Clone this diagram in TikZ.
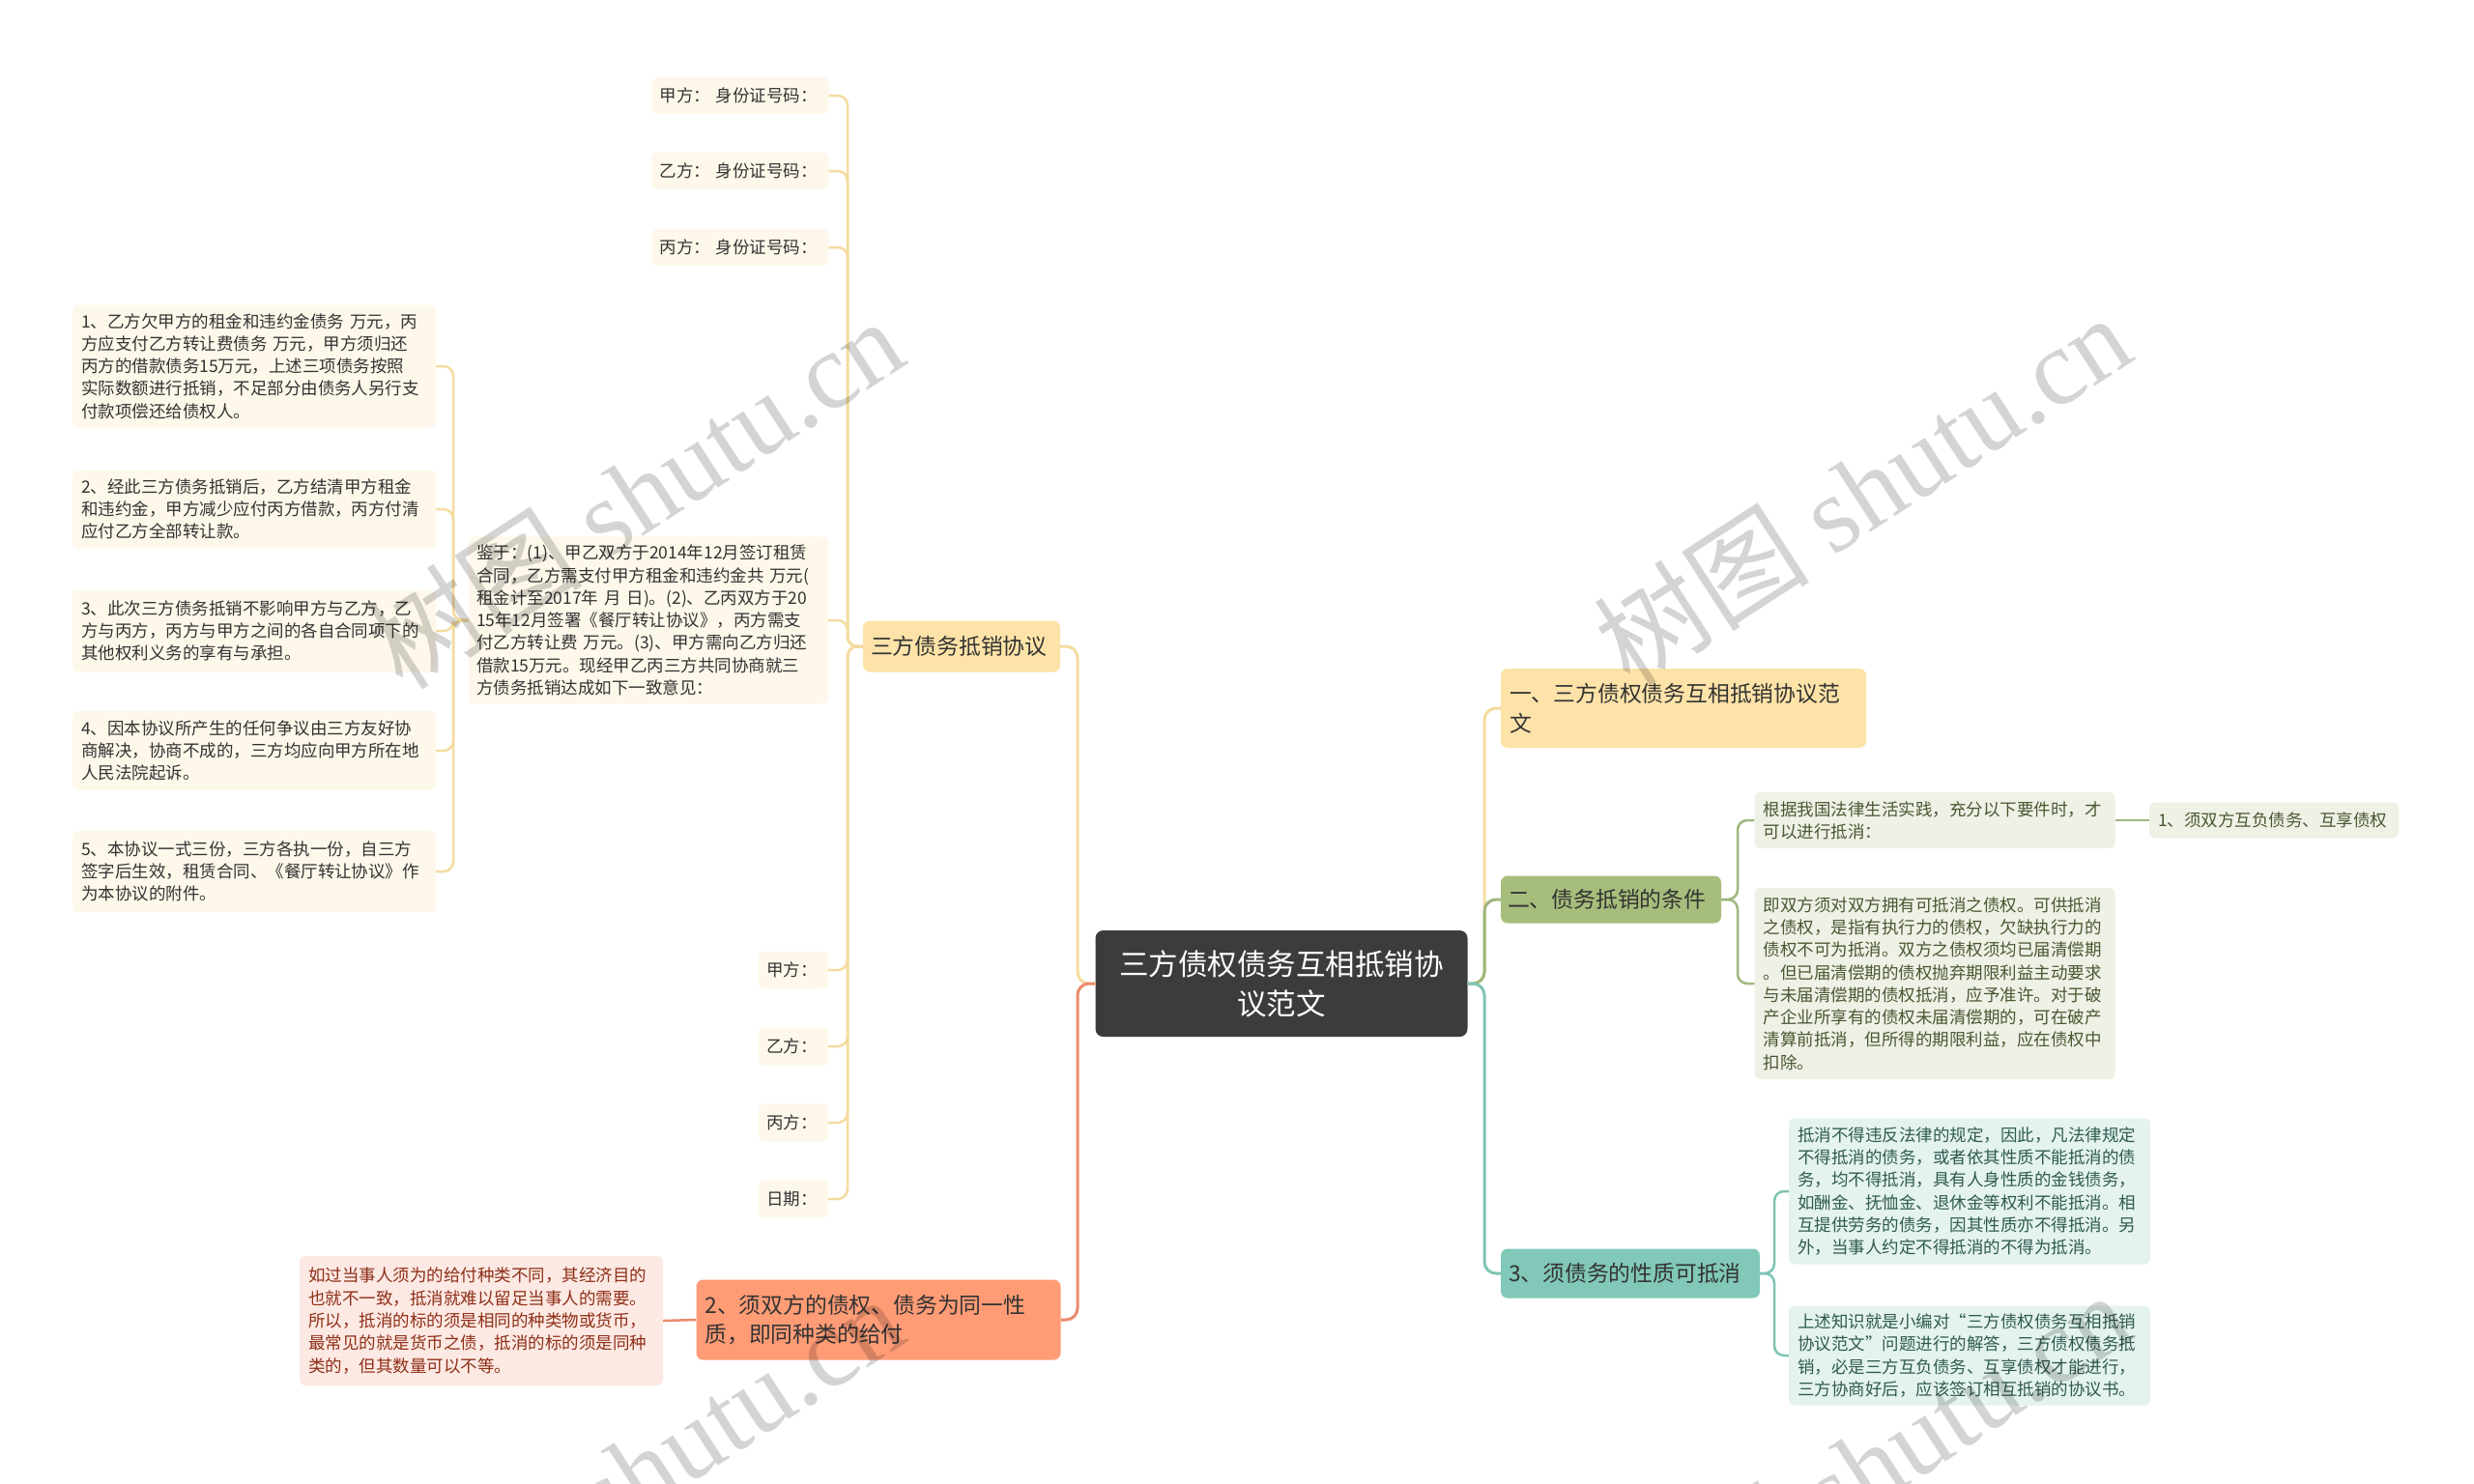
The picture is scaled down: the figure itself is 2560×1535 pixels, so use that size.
\documentclass[tikz,border=0pt]{standalone}
\usepackage{fontspec}
\setmainfont{Noto Sans CJK SC}
\newfontfamily\wmserif{Liberation Serif}
\definecolor{cdark}{HTML}{3C3C3C}
\definecolor{ymain}{HTML}{FDE3A8}
\definecolor{yleaf}{HTML}{FEF8EA}
\definecolor{yline}{HTML}{F4DC9F}
\definecolor{gmain}{HTML}{A7BD7C}
\definecolor{gleaf}{HTML}{EEF1E5}
\definecolor{gline}{HTML}{A0B67D}
\definecolor{gtext}{HTML}{4B5632}
\definecolor{tmain}{HTML}{81C8B8}
\definecolor{tleaf}{HTML}{E4F3EE}
\definecolor{tline}{HTML}{7EC4B4}
\definecolor{ttext}{HTML}{2F5A50}
\definecolor{smain}{HTML}{FF9C76}
\definecolor{sleaf}{HTML}{FDE9E3}
\definecolor{sline}{HTML}{E98B6F}
\definecolor{stext}{HTML}{8E2F18}
\definecolor{ink}{HTML}{333333}
\tikzset{
  box/.style={rounded corners=6pt, inner xsep=9pt, inner ysep=0pt, align=left, text=ink},
  leaf/.style={box, font=\fontsize{17.5}{23.3}\selectfont},
  leafY/.style={leaf, fill=yleaf},
  leafG/.style={leaf, fill=gleaf, text=gtext},
  leafT/.style={leaf, fill=tleaf, text=ttext},
  leafS/.style={leaf, fill=sleaf, text=stext},
  mainbox/.style={box, rounded corners=7pt, font=\fontsize{22.8}{30.5}\selectfont},
  rootbox/.style={box, rounded corners=8pt, fill=cdark, text=white, align=center, font=\fontsize{30.5}{41}\selectfont},
  conn/.style={line width=2.5pt, rounded corners=10pt},
  mconn/.style={line width=3pt, rounded corners=12pt},
  wm/.style={text=black, opacity=0.17, font=\fontsize{112}{112}\selectfont, inner sep=0pt}
}
\begin{document}
\begin{tikzpicture}[x=1pt,y=-1pt]
\useasboundingbox (0,0) rectangle (2560,1535);
\fill[white] (0,0) rectangle (2560,1535);

% trunk coordinates
\coordinate (tCL) at (1115,0);
\coordinate (tCR) at (1536,0);
\coordinate (tS1) at (877,0);
\coordinate (tJY) at (469,0);
\coordinate (tR2) at (1798,0);
\coordinate (tR3) at (1836,0);

% root
\node[rootbox, minimum width=385pt, minimum height=110pt, text width=367pt] (c) at (1326,1018) {三方债权债务互相抵销协\\议范文};

% right side
\node[mainbox, fill=ymain, minimum width=378pt, minimum height=82pt, text width=360pt] (r1) at (1742,733) {一、三方债权债务互相抵销协议范\\文};
\node[mainbox, fill=gmain, minimum width=228pt, minimum height=49pt, text width=214pt, inner xsep=7pt] (r2) at (1667,931) {二、债务抵销的条件};
\node[leafG, minimum width=373pt, minimum height=58pt, text width=355pt] (g1) at (2002,849) {根据我国法律生活实践，充分以下要件时，才\\可以进行抵消：};
\node[leafG, minimum width=258pt, minimum height=37pt, text width=240pt] (g1a) at (2353,849) {1、须双方互负债务、互享债权};
\node[leafG, minimum width=373pt, minimum height=198pt, text width=355pt] (g2) at (2002,1018) {即双方须对双方拥有可抵消之债权。可供抵消\\之债权，是指有执行力的债权，欠缺执行力的\\债权不可为抵消。双方之债权须均已届清偿期\\。但已届清偿期的债权抛弃期限利益主动要求\\与未届清偿期的债权抵消，应予准许。对于破\\产企业所享有的债权未届清偿期的，可在破产\\清算前抵消，但所得的期限利益，应在债权中\\扣除。};
\node[mainbox, fill=tmain, minimum width=268pt, minimum height=51pt, text width=252pt, inner xsep=8pt] (r3) at (1687,1318) {3、须债务的性质可抵消};
\node[leafT, minimum width=374pt, minimum height=151pt, text width=356pt] (t1) at (2038,1233) {抵消不得违反法律的规定，因此，凡法律规定\\不得抵消的债务，或者依其性质不能抵消的债\\务，均不得抵消，具有人身性质的金钱债务，\\如酬金、抚恤金、退休金等权利不能抵消。相\\互提供劳务的债务，因其性质亦不得抵消。另\\外，当事人约定不得抵消的不得为抵消。};
\node[leafT, minimum width=374pt, minimum height=103pt, text width=356pt] (t2) at (2038,1403) {上述知识就是小编对“三方债权债务互相抵销\\协议范文”问题进行的解答，三方债权债务抵\\销，必是三方互负债务、互享债权才能进行，\\三方协商好后，应该签订相互抵销的协议书。};

% left side
\node[mainbox, fill=ymain, minimum width=204pt, minimum height=53pt, text width=188pt, inner xsep=8pt] (s1) at (995,669) {三方债务抵销协议};
\node[leafY, minimum width=183pt, minimum height=38pt, text width=167pt, inner xsep=8pt] (a1) at (766,99) {甲方： 身份证号码：};
\node[leafY, minimum width=183pt, minimum height=38pt, text width=167pt, inner xsep=8pt] (a2) at (766,177) {乙方： 身份证号码：};
\node[leafY, minimum width=183pt, minimum height=38pt, text width=167pt, inner xsep=8pt] (a3) at (766,256) {丙方： 身份证号码：};
\node[leafY, minimum width=372pt, minimum height=173pt, text width=356pt, inner xsep=8pt] (jy) at (671,642) {鉴于：(1)、甲乙双方于2014年12月签订租赁\\合同，乙方需支付甲方租金和违约金共 万元(\\租金计至2017年 月 日)。(2)、乙丙双方于20\\15年12月签署《餐厅转让协议》，丙方需支\\付乙方转让费 万元。(3)、甲方需向乙方归还\\借款15万元。现经甲乙丙三方共同协商就三\\方债务抵销达成如下一致意见：};
\node[leafY, minimum width=72pt, minimum height=39pt, text width=56pt, inner xsep=8pt] (b1) at (821,1004) {甲方：};
\node[leafY, minimum width=72pt, minimum height=39pt, text width=56pt, inner xsep=8pt] (b2) at (821,1083) {乙方：};
\node[leafY, minimum width=72pt, minimum height=39pt, text width=56pt, inner xsep=8pt] (b3) at (821,1162) {丙方：};
\node[leafY, minimum width=72pt, minimum height=39pt, text width=56pt, inner xsep=8pt] (b4) at (821,1241) {日期：};

\node[leafY, minimum width=376pt, minimum height=127pt, text width=358pt] (i1) at (263,379) {1、乙方欠甲方的租金和违约金债务 万元，丙\\方应支付乙方转让费债务 万元，甲方须归还\\丙方的借款债务15万元，上述三项债务按照\\实际数额进行抵销，不足部分由债务人另行支\\付款项偿还给债权人。};
\node[leafY, minimum width=376pt, minimum height=81pt, text width=358pt] (i2) at (263,527) {2、经此三方债务抵销后，乙方结清甲方租金\\和违约金，甲方减少应付丙方借款，丙方付清\\应付乙方全部转让款。};
\node[leafY, minimum width=376pt, minimum height=85pt, text width=358pt] (i3) at (263,653) {3、此次三方债务抵销不影响甲方与乙方，乙\\方与丙方，丙方与甲方之间的各自合同项下的\\其他权利义务的享有与承担。};
\node[leafY, minimum width=376pt, minimum height=82pt, text width=358pt] (i4) at (263,777) {4、因本协议所产生的任何争议由三方友好协\\商解决，协商不成的，三方均应向甲方所在地\\人民法院起诉。};
\node[leafY, minimum width=376pt, minimum height=84pt, text width=358pt] (i5) at (263,902) {5、本协议一式三份，三方各执一份，自三方\\签字后生效，租赁合同、《餐厅转让协议》作\\为本协议的附件。};

\node[mainbox, fill=smain, minimum width=377pt, minimum height=83pt, text width=359pt, font=\fontsize{22.8}{30}\selectfont] (s2) at (909,1366) {2、须双方的债权、债务为同一性\\质，即同种类的给付};
\node[leafS, minimum width=376pt, minimum height=134pt, text width=358pt] (rx) at (498,1367) {如过当事人须为的给付种类不同，其经济目的\\也就不一致，抵消就难以留足当事人的需要。\\所以，抵消的标的须是相同的种类物或货币，\\最常见的就是货币之债，抵消的标的须是同种\\类的，但其数量可以不等。};

% connectors from root
\draw[mconn, yline] (c.west) -- (c.west -| tCL) |- (s1.east);
\draw[mconn, sline] (c.west) -- (c.west -| tCL) |- (s2.east);
\draw[mconn, yline] (c.east) -- (c.east -| tCR) |- (r1.west);
\draw[mconn, gline] (c.east) -- (c.east -| tCR) |- (r2.west);
\draw[mconn, tline] (c.east) -- (c.east -| tCR) |- (r3.west);

% s1 children
\foreach \n in {a1,a2,a3,jy,b1,b2,b3,b4}
  \draw[conn, yline] (s1.west) -- (s1.west -| tS1) |- (\n.east);
% jy children
\foreach \n in {i1,i2,i3,i4,i5}
  \draw[conn, yline] (jy.west) -- (jy.west -| tJY) |- (\n.east);
% s2 child
\draw[conn, sline] (s2.west) -- (rx.east);
% r2 children
\foreach \n in {g1,g2}
  \draw[conn, gline] (r2.east) -- (r2.east -| tR2) |- (\n.west);
\draw[conn, gline] (g1.east) -- (g1a.west);
% r3 children
\foreach \n in {t1,t2}
  \draw[conn, tline] (r3.east) -- (r3.east -| tR3) |- (\n.west);

% watermarks
\begin{scope}
\clip (0,0) rectangle (2560,1535);
\node[wm, rotate=33] (w1) at (657,510) {树图 {\wmserif shutu.cn}};
\node[wm, rotate=33] (w2) at (1927,506) {树图 {\wmserif shutu.cn}};
\node[wm, rotate=33] (w3) at (657,1522) {树图 {\wmserif shutu.cn}};
\node[wm, rotate=33] (w4) at (1927,1518) {树图 {\wmserif shutu.cn}};
\end{scope}
\end{tikzpicture}
\end{document}
